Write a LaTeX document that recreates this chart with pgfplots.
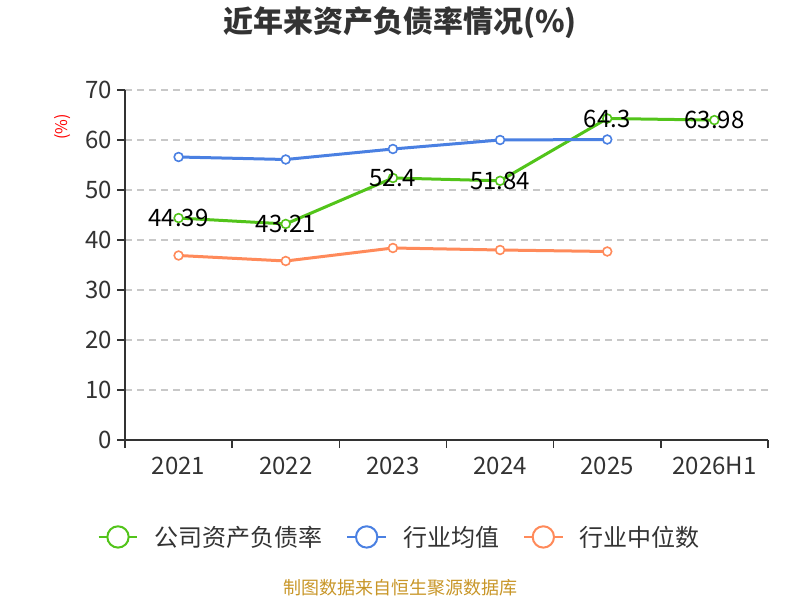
\documentclass[border=0pt]{standalone}
\usepackage{fontspec}
\setmainfont{Noto Sans CJK SC}
\usepackage{pgfplots}
\pgfplotsset{compat=1.18}
\definecolor{cgreen}{RGB}{82,196,26}
\definecolor{cblue}{RGB}{74,128,226}
\definecolor{corange}{RGB}{255,138,90}
\definecolor{ctext}{RGB}{51,51,51}
\definecolor{cgrid}{RGB}{200,200,200}
\definecolor{csrc}{RGB}{200,150,40}
\begin{document}
\begin{tikzpicture}
\path[use as bounding box] (0,0) rectangle (600pt,450pt);
\node[font=\bfseries\fontsize{22.5}{26}\selectfont, text=ctext] at (300pt,433pt) {近年来资产负债率情况(\%)};
\node[font=\fontsize{12}{14}\selectfont, text=red, rotate=90] at (47pt,354.75pt) {(\%)};
\node[font=\fontsize{13.5}{15}\selectfont, text=csrc] at (300pt,9pt) {制图数据来自恒生聚源数据库};
\begin{axis}[
  at={(93.75pt,120pt)}, anchor=south west,
  scale only axis, width=482.25pt, height=262.5pt,
  xmin=-0.5, xmax=5.5, ymin=0, ymax=70,
  xtick={-0.5,0.5,...,5.5}, xticklabels={},
  extra x ticks={0,1,2,3,4,5},
  extra x tick labels={2021,2022,2023,2024,2025,2026H1},
  extra x tick style={major tick length=0pt, xticklabel style={yshift=-9pt}},
  ytick={0,10,...,70},
  axis x line*=bottom, axis y line*=left,
  axis line style={ctext, line width=1.2pt},
  tick style={ctext, line width=1.2pt},
  major tick length=6pt, tick align=outside,
  ymajorgrids, grid style={cgrid, dashed, line width=0.9pt, dash pattern=on 5pt off 4pt},
  ticklabel style={font=\fontsize{18}{20}\selectfont, text=ctext},
  /pgf/number format/assume math mode=true,
  legend columns=3,
  legend style={draw=none, at={(0.4277,-0.277)}, anchor=center,
    font=\fontsize{18}{20}\selectfont, text=ctext,
    /tikz/every odd column/.append style={column sep=10pt},
    /tikz/every even column/.append style={column sep=16pt}},
  legend image code/.code={
    \draw[#1, line width=1.5pt] (0pt,0pt) -- (29pt,0pt);
    \draw[#1, line width=1.5pt, fill=white] (14.5pt,0pt) circle (8pt);
  },
  every axis plot/.append style={line width=2.25pt, mark=*, mark size=3.3pt,
    mark options={fill=white, line width=1.2pt}},
]
\addplot[cgreen, nodes near coords, point meta=explicit symbolic,
  every node near coord/.append style={anchor=center, text=black, font=\fontsize{18}{20}\selectfont}]
  coordinates {(0,44.39)[44.39] (1,43.21)[43.21] (2,52.4)[52.4] (3,51.84)[51.84] (4,64.3)[64.3] (5,63.98)[63.98]};
\addlegendentry{公司资产负债率}
\addplot[cblue] coordinates {(0,56.6) (1,56.1) (2,58.2) (3,60.0) (4,60.1)};
\addlegendentry{行业均值}
\addplot[corange] coordinates {(0,36.9) (1,35.8) (2,38.4) (3,38.0) (4,37.7)};
\addlegendentry{行业中位数}
\end{axis}
\end{tikzpicture}
\end{document}
